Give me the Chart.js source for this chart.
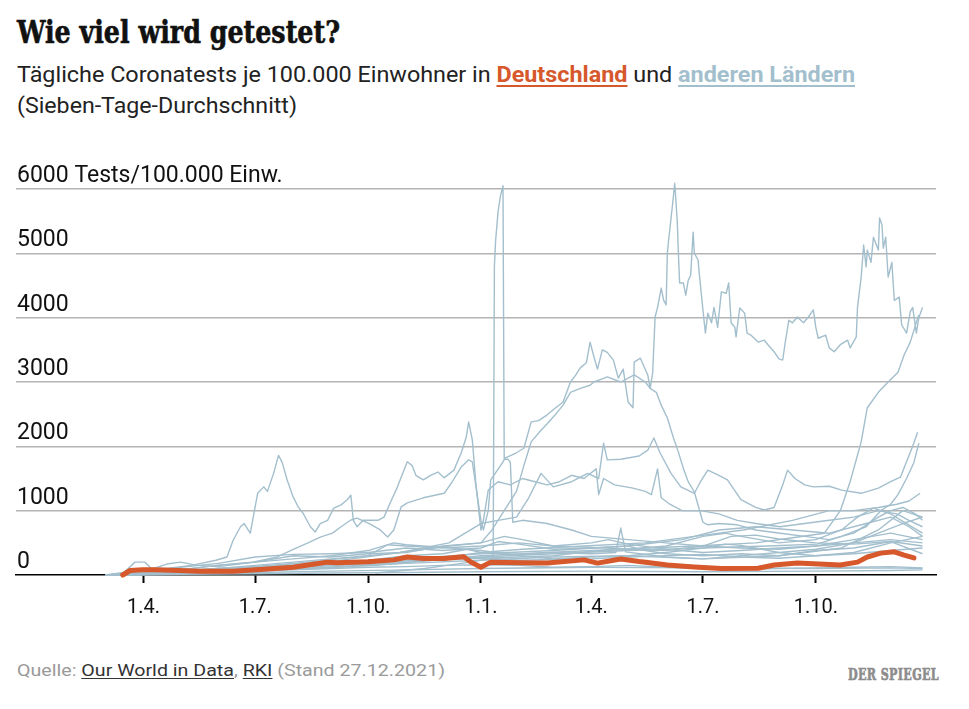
<!DOCTYPE html>
<html lang="de">
<head>
<meta charset="utf-8">
<script src="https://cdn.jsdelivr.net/npm/chart.js@4.4.1/dist/chart.umd.min.js"></script>
<style>
  html,body{margin:0;padding:0;background:#fff;}
  body{width:969px;height:709px;position:relative;overflow:hidden;font-family:Roboto,"Noto Sans",sans-serif;}
  .t{position:absolute;white-space:nowrap;display:inline-block;transform-origin:0 0;}
  #title{left:17px;top:14px;font-family:"DejaVu Serif",serif;font-weight:bold;font-stretch:condensed;font-size:32px;line-height:36px;color:#111;-webkit-text-stroke:0.6px #111;}
  #sub1{left:17px;top:62px;font-size:22px;line-height:25px;color:#222;}
  #sub2{left:17px;top:93px;font-size:22px;line-height:25px;color:#222;}
  .de{color:#d6582b;font-weight:bold;text-decoration:underline;text-decoration-thickness:2px;text-underline-offset:3px;}
  .an{color:#a3bfcd;font-weight:bold;text-decoration:underline;text-decoration-thickness:2px;text-underline-offset:3px;}
  #foot{left:17px;top:660px;font-size:17px;line-height:20px;color:#9a9a9a;}
  #foot u{color:#333;text-decoration-thickness:1px;text-underline-offset:2px;}
  #logo{left:848px;top:664px;font-family:"DejaVu Serif",serif;font-weight:bold;font-size:17px;line-height:21px;color:#8c8c8c;letter-spacing:0.5px;-webkit-text-stroke:0.7px #8c8c8c;}
  #wrap{position:absolute;left:0;top:140px;width:969px;height:500px;}
</style>
</head>
<body>
<div id="title" class="t" data-w="323">Wie viel wird getestet?</div>
<div id="sub1" class="t" data-w="838">Tägliche Coronatests je 100.000 Einwohner in <span class="de">Deutschland</span> und <span class="an">anderen Ländern</span></div>
<div id="sub2" class="t" data-w="280">(Sieben-Tage-Durchschnitt)</div>
<div id="wrap"><canvas id="c" width="969" height="500"></canvas></div>
<div id="foot" class="t" data-w="428">Quelle: <u>Our World in Data</u>, <u>RKI</u> (Stand 27.12.2021)</div>
<div id="logo" class="t" data-w="91">DER SPIEGEL</div>
<script>
// x values: days since 1 Jan 2020
const tickDays   = [91, 182, 274, 366, 456, 547, 639];
const tickLabels = ['1.4.', '1.7.', '1.10.', '1.1.', '1.4.', '1.7.', '1.10.'];
const yTicks = [0, 1000, 2000, 3000, 4000, 5000, 6000];
const yUnit = 'Tests/100.000 Einw.';

// Deutschland (tests per 100,000, 7-day average)
const deutschland = [[74,0],[80,70],[90,80],[100,80],[120,70],[137,60],[164,60],[186,85],[213,120],[225,155],[241,200],[249,190],[274,205],[295,235],[306,280],[319,255],[336,255],[352,285],[358,200],[366,120],[374,200],[400,190],[420,185],[450,235],[461,185],[480,250],[495,210],[502,195],[518,155],[540,125],[562,100],[592,105],[605,155],[624,185],[659,155],[673,200],[681,280],[692,340],[703,360],[711,310],[719,265]];

// other countries
const landA = [[60,0],[75,40],[84,200],[92,200],[97,110],[110,100],[130,150],[150,230],[159,280],[164,540],[170,750],[173,800],[178,650],[184,1270],[189,1370],[192,1300],[197,1580],[201,1860],[204,1750],[208,1480],[213,1210],[217,1060],[221,960],[227,750],[231,670],[235,800],[241,850],[246,1040],[252,1090],[257,1170],[260,1240],[262,850],[265,750],[270,850],[282,850],[287,900],[292,1120],[298,1370],[301,1520],[306,1760],[310,1700],[313,1550],[319,1480],[325,1550],[331,1600],[336,1510],[344,1630],[350,1900],[354,2140],[356,2380],[359,2100],[362,1400],[366,700],[368,850],[372,1320],[380,1450],[390,1400],[400,1500],[410,1450],[420,1400],[430,1450],[440,1550],[450,1500],[460,1650],[462,1250],[466,1500],[475,1400],[490,1350],[500,1300],[505,1250],[510,1650],[513,1200],[520,1100],[530,1000],[545,1000],[560,950],[575,850],[590,800],[610,750],[630,800],[650,850],[670,900],[690,1000],[705,950],[715,850],[726,750]];
const landB = [[60,0],[90,30],[120,80],[150,150],[180,200],[200,280],[213,400],[225,500],[235,590],[245,650],[252,750],[260,855],[265,885],[275,800],[284,700],[290,590],[295,700],[301,1060],[306,1120],[319,1200],[336,1270],[342,1430],[350,1680],[356,1790],[359,1760],[362,1370],[366,850],[368,700],[372,1000],[374,1480],[382,1700],[386,1820],[395,1900],[401,1970],[407,2380],[413,2400],[420,2490],[427,2600],[433,2690],[439,3000],[443,3100],[447,3220],[452,3300],[455,3620],[458,3400],[461,3200],[465,3500],[469,3460],[474,3340],[478,3060],[482,3200],[486,2690],[490,2600],[491,3310],[496,3370],[502,3110],[504,2900],[506,3140],[508,4010],[510,4160],[513,4460],[515,4270],[517,4200],[518,5000],[519,5200],[522,5720],[524,6090],[526,5520],[527,5000],[528,4540],[531,4540],[533,4350],[535,4580],[537,4660],[539,5330],[540,5000],[543,4900],[544,4690],[547,4120],[549,3760],[551,4070],[554,3920],[556,4160],[559,3850],[562,4400],[566,4380],[568,4540],[570,3920],[573,3850],[574,3700],[577,4150],[581,4070],[583,3760],[586,3730],[592,3620],[597,3650],[600,3580],[605,3470],[609,3360],[612,3340],[614,3600],[617,3960],[620,3920],[624,4010],[629,3920],[633,4010],[637,4120],[639,3850],[641,3680],[647,3730],[650,3530],[654,3470],[659,3580],[665,3650],[667,3530],[672,3700],[673,4160],[676,4630],[678,5130],[680,4790],[681,5050],[684,4860],[686,5250],[690,5050],[691,5550],[693,5440],[694,5080],[696,5250],[698,4630],[701,4860],[703,4270],[707,4320],[709,3890],[713,3760],[716,4090],[718,4160],[721,3760],[723,4000],[726,4160]];
const landC = [[62,0],[100,50],[150,100],[200,150],[250,250],[300,350],[340,450],[366,500],[375,700],[385,1000],[395,1300],[401,1700],[407,2070],[415,2250],[420,2350],[427,2500],[433,2640],[439,2840],[447,2900],[455,2950],[458,3000],[465,3050],[469,3080],[480,3000],[491,3110],[500,3000],[504,2900],[509,2840],[513,2640],[518,2440],[523,2130],[527,1910],[531,1660],[535,1450],[540,1290],[547,820],[551,780],[560,800],[575,780],[590,700],[610,650],[630,600],[650,550],[670,650],[690,900],[700,1000],[710,1050],[720,950],[726,850]];
const landD = [[60,0],[120,50],[180,100],[240,200],[300,350],[340,500],[366,800],[380,850],[395,900],[405,1200],[415,1580],[425,1370],[440,1450],[453,1580],[462,1500],[466,2050],[469,1790],[480,1800],[495,1850],[502,1940],[507,2130],[512,1900],[521,1580],[529,1370],[540,1270],[545,1450],[551,1630],[560,1550],[567,1480],[578,1170],[590,1050],[597,1010],[605,1050],[612,1400],[616,1630],[622,1500],[630,1400],[637,1370],[650,1380],[660,1320],[676,1270],[690,1350],[700,1450],[708,1520],[713,1760],[718,2000],[722,2220]];
const landE = [[65,0],[120,30],[200,80],[280,150],[340,250],[366,300],[420,350],[480,400],[540,450],[590,500],[620,580],[646,650],[659,1000],[667,1450],[676,2070],[681,2600],[690,2840],[698,3000],[706,3150],[711,3420],[716,3620],[721,3930],[723,4040]];
const landF = [[70,0],[121,30],[182,70],[244,120],[305,200],[366,280],[425,330],[486,380],[547,420],[600,450],[640,480],[660,600],[680,750],[692,1000],[700,1100],[706,1250],[713,1500],[719,1750],[723,2050]];
const landG = [[60,0],[150,80],[250,150],[330,250],[366,350],[400,400],[450,450],[500,500],[540,600],[580,700],[620,850],[650,1000],[670,1000],[690,1050],[705,1100],[715,1150],[724,1270]];
const landH = [[280,30],[320,100],[350,180],[366,230],[376,260],[377,4800],[378,5200],[380,5650],[382,5900],[384,6050],[385,1800],[388,1800],[390,1750],[392,820],[400,850],[420,800],[440,700],[456,600],[486,550],[517,500],[547,450],[578,420],[609,400],[639,450],[670,500],[700,550],[726,500]];
const landI = [[60,0],[91,40],[121,120],[152,180],[182,280],[213,320],[244,330],[274,350],[305,420],[335,380],[366,420],[380,520],[397,480],[425,400],[456,420],[486,450],[500,380],[517,330],[547,300],[578,330],[609,300],[639,380],[670,420],[700,520],[726,450]];
const landJ = [[65,0],[91,30],[121,80],[152,150],[182,200],[213,250],[244,300],[274,380],[295,500],[305,470],[335,430],[366,380],[397,300],[425,250],[456,280],[486,300],[517,350],[547,420],[565,480],[578,460],[609,350],[639,300],[670,350],[700,500],[726,600]];
const landK = [[70,0],[91,20],[121,60],[152,100],[182,130],[213,180],[244,200],[274,230],[305,300],[335,330],[355,400],[366,350],[397,320],[425,350],[456,330],[476,350],[480,730],[484,360],[517,280],[547,250],[578,300],[609,350],[639,400],[670,500],[690,650],[710,800],[726,900]];
const landL = [[60,0],[91,10],[121,30],[152,50],[182,60],[213,80],[244,100],[274,120],[305,130],[335,150],[366,160],[397,150],[425,120],[456,130],[486,150],[517,120],[547,100],[578,90],[609,100],[639,110],[670,120],[700,130],[726,110]];
const landM = [[80,0],[121,10],[182,20],[244,30],[305,40],[366,50],[456,60],[547,50],[639,60],[700,70],[726,80]];
const landN = [[60,0],[91,50],[110,170],[121,200],[135,150],[152,130],[182,200],[213,300],[244,280],[274,330],[305,350],[335,450],[366,500],[385,600],[400,550],[425,450],[456,500],[470,550],[486,480],[517,400],[547,350],[578,380],[609,420],[639,450],[670,550],[700,650],[726,550]];
const landO = [[62,0],[91,30],[121,60],[152,90],[182,120],[213,150],[244,170],[274,200],[305,250],[335,260],[366,270],[397,230],[425,240],[456,250],[486,280],[517,300],[547,320],[578,280],[609,260],[639,300],[670,330],[700,380],[726,420]];
const landP = [[85,0],[121,40],[152,70],[182,100],[213,120],[244,150],[274,180],[305,220],[335,240],[366,260],[397,280],[425,300],[456,370],[486,400],[517,380],[547,450],[570,600],[590,620],[609,560],[639,500],[670,480],[700,520],[726,330]];
const landQ = [[70,0],[121,50],[182,150],[244,250],[274,300],[290,470],[305,450],[335,420],[366,450],[397,500],[425,450],[456,430],[486,400],[517,450],[547,600],[565,650],[578,600],[609,500],[639,550],[660,700],[673,900],[686,1040],[700,950],[713,800],[726,650]];
const landR = [[75,0],[121,30],[182,80],[244,120],[305,180],[366,230],[425,280],[486,300],[547,250],[609,300],[660,420],[690,700],[710,1000],[726,900]];
const landS = [[60,0],[121,20],[182,40],[244,60],[305,80],[366,100],[456,120],[547,110],[639,100],[700,110],[726,100]];
const landT = [[62,0],[121,50],[182,100],[244,150],[305,250],[366,330],[425,380],[486,450],[530,550],[560,700],[590,750],[620,700],[650,650],[680,800],[700,900],[715,750],[726,600]];

const andereLaender = [landA, landB, landC, landD, landE, landF, landG, landH, landI, landJ, landK, landL, landM, landN, landO, landP, landQ, landR, landS, landT];

const toXY = arr => arr.map(([x, y]) => ({x, y}));
const grey = '#a3bfcd';
const orange = '#d6582b';

const datasets = [{
  data: toXY(deutschland), borderColor: orange, borderWidth: 5, order: 0,
  pointRadius: 0, tension: 0, clip: false, borderJoinStyle: 'round', borderCapStyle: 'round', fill: false
}].concat(andereLaender.map(s => ({
  data: toXY(s), borderColor: grey, borderWidth: 1.4, order: 1,
  pointRadius: 0, tension: 0, clip: false, borderJoinStyle: 'round', fill: false
})));

const yLabels = {
  id: 'yLabels',
  afterDraw(chart) {
    const ctx = chart.ctx, ys = chart.scales.y;
    ctx.save();
    ctx.font = '23px Roboto';
    ctx.fillStyle = '#111';
    ctx.textAlign = 'left';
    ctx.textBaseline = 'alphabetic';
    yTicks.forEach(v => {
      const py = ys.getPixelForValue(v);
      ctx.fillText(v === 6000 ? v + ' ' + yUnit : String(v), 17, py - 7);
    });
    ctx.restore();
  }
};

new Chart(document.getElementById('c'), {
  type: 'line',
  data: { datasets },
  options: {
    responsive: false, animation: false, devicePixelRatio: 1,
    layout: { padding: { left: 16, right: 33, top: 49, bottom: 0 } },
    plugins: { legend: { display: false }, tooltip: { enabled: false } },
    scales: {
      x: {
        type: 'linear', min: -13, max: 737,
        afterBuildTicks: s => { s.ticks = tickDays.map(v => ({ value: v })); },
        afterFit: s => { s.height = 65; },
        ticks: { autoSkip: false, maxRotation: 0, padding: 13, color: '#111',
          font: { family: 'Roboto', size: 20 },
          callback: (v, i) => tickLabels[i] },
        grid: { drawOnChartArea: false, drawTicks: true, tickLength: 8, tickColor: '#000', tickWidth: 2 },
        border: { display: true, color: '#000', width: 1.5 }
      },
      y: {
        min: 0, max: 6000,
        afterBuildTicks: s => { s.ticks = yTicks.map(v => ({ value: v })); },
        afterFit: s => { s.width = 0; },
        ticks: { display: false },
        grid: { color: c => (c.tick && c.tick.value === 0) ? 'rgba(0,0,0,0)' : '#b4b4b4', lineWidth: 1.5, drawTicks: false },
        border: { display: false }
      }
    }
  },
  plugins: [yLabels]
});

document.querySelectorAll('[data-w]').forEach(el => {
  const w = el.getBoundingClientRect().width;
  if (w > 0) el.style.transform = 'scaleX(' + (parseFloat(el.dataset.w) / w) + ')';
});
</script>
</body>
</html>
